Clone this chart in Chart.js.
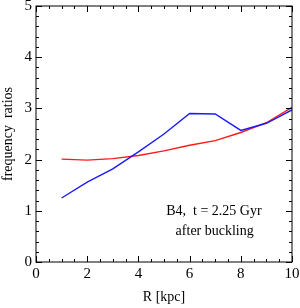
<!DOCTYPE html>
<html>
<head>
<meta charset="utf-8">
<script src="https://cdn.jsdelivr.net/npm/chart.js@4/dist/chart.umd.min.js"></script>
<style>
  html, body { margin: 0; padding: 0; background: #fff; }
  #wrap { width: 300px; height: 308px; }
</style>
</head>
<body>
<div id="wrap"><canvas id="chart"></canvas></div>
<script>
let radius = [1, 2, 3, 4, 5, 6, 7, 8, 9, 10]
let blueRatio = [1.25, 1.56, 1.82, 2.15, 2.5, 2.9, 2.89, 2.57, 2.71, 2.97]
let redRatio = [2.01, 1.99, 2.02, 2.08, 2.17, 2.28, 2.37, 2.53, 2.72, 3.02]
let xTicks = [0, 2, 4, 6, 8, 10]
let yTicks = [0, 1, 2, 3, 4, 5]
let noteLines = ["B4,  t = 2.25 Gyr", "after buckling"]

let serif = "'Liberation Serif', 'DejaVu Serif', serif"

function toPoints(xs, ys) {
  return xs.map((x, i) => ({ x: x, y: ys[i] }))
}

// box round the plot, inward ticks on all sides, and the note text
let framePlugin = {
  id: "frame",
  afterDraw(chart) {
    let ctx = chart.ctx
    let a = chart.chartArea
    let xs = chart.scales.x
    let ys = chart.scales.y
    ctx.save()
    ctx.strokeStyle = "#000"
    ctx.lineWidth = 1
    ctx.strokeRect(a.left, a.top, a.right - a.left, a.bottom - a.top)
    ctx.beginPath()
    for (let v = 0; v <= 10.001; v += 0.5) {
      let px = Math.round(xs.getPixelForValue(v)) + 0.5
      let len = Math.abs(v % 2) < 0.01 ? 6 : 3
      ctx.moveTo(px, a.bottom)
      ctx.lineTo(px, a.bottom - len)
      ctx.moveTo(px, a.top)
      ctx.lineTo(px, a.top + len)
    }
    for (let v = 0; v <= 5.001; v += 0.2) {
      let py = Math.round(ys.getPixelForValue(v)) + 0.5
      let len = Math.abs(v - Math.round(v)) < 0.01 ? 6 : 3
      ctx.moveTo(a.left, py)
      ctx.lineTo(a.left + len, py)
      ctx.moveTo(a.right, py)
      ctx.lineTo(a.right - len, py)
    }
    ctx.stroke()
    ctx.fillStyle = "#000"
    ctx.font = "14px " + serif
    ctx.textAlign = "center"
    ctx.textBaseline = "middle"
    ctx.fillText(noteLines[0], xs.getPixelForValue(6.95), ys.getPixelForValue(0.99))
    ctx.fillText(noteLines[1], xs.getPixelForValue(6.98), ys.getPixelForValue(0.6))
    ctx.restore()
  },
}

let chart = new Chart(document.getElementById("chart").getContext("2d"), {
  type: "line",
  data: {
    datasets: [
      {
        label: "blue",
        data: toPoints(radius, blueRatio),
        borderColor: "#1a1aff",
        borderWidth: 1.4,
        pointRadius: 0,
        tension: 0,
      },
      {
        label: "red",
        data: toPoints(radius, redRatio),
        borderColor: "#ff1a1a",
        borderWidth: 1.4,
        pointRadius: 0,
        tension: 0,
      },
    ],
  },
  options: {
    responsive: true,
    maintainAspectRatio: false,
    animation: false,
    layout: {
      padding: { left: 0, right: 8, top: 6, bottom: 0 },
    },
    plugins: {
      legend: { display: false },
      tooltip: { enabled: false },
    },
    scales: {
      x: {
        type: "linear",
        min: 0,
        max: 10,
        afterFit(scale) {
          scale.height = 46
          scale.paddingLeft = 0
          scale.paddingRight = 0
        },
        afterBuildTicks(scale) {
          scale.ticks = xTicks.map((v) => ({ value: v }))
        },
        grid: { display: false, drawTicks: false },
        border: { display: false },
        ticks: {
          color: "#000",
          font: { family: serif, size: 15 },
          padding: 3,
          maxRotation: 0,
        },
        title: {
          display: true,
          text: "R [kpc]",
          color: "#000",
          font: { family: serif, size: 14 },
          padding: { top: 0, bottom: 2 },
        },
      },
      y: {
        type: "linear",
        min: 0,
        max: 5,
        afterFit(scale) {
          scale.width = 36
          scale.paddingTop = 0
          scale.paddingBottom = 0
        },
        afterBuildTicks(scale) {
          scale.ticks = yTicks.map((v) => ({ value: v }))
        },
        grid: { display: false, drawTicks: false },
        border: { display: false },
        ticks: {
          color: "#000",
          font: { family: serif, size: 15 },
          padding: 4,
        },
        title: {
          display: true,
          text: "frequency  ratios",
          color: "#000",
          font: { family: serif, size: 14 },
          padding: { top: 0, bottom: 0 },
        },
      },
    },
  },
  plugins: [framePlugin],
})
</script>
</body>
</html>
